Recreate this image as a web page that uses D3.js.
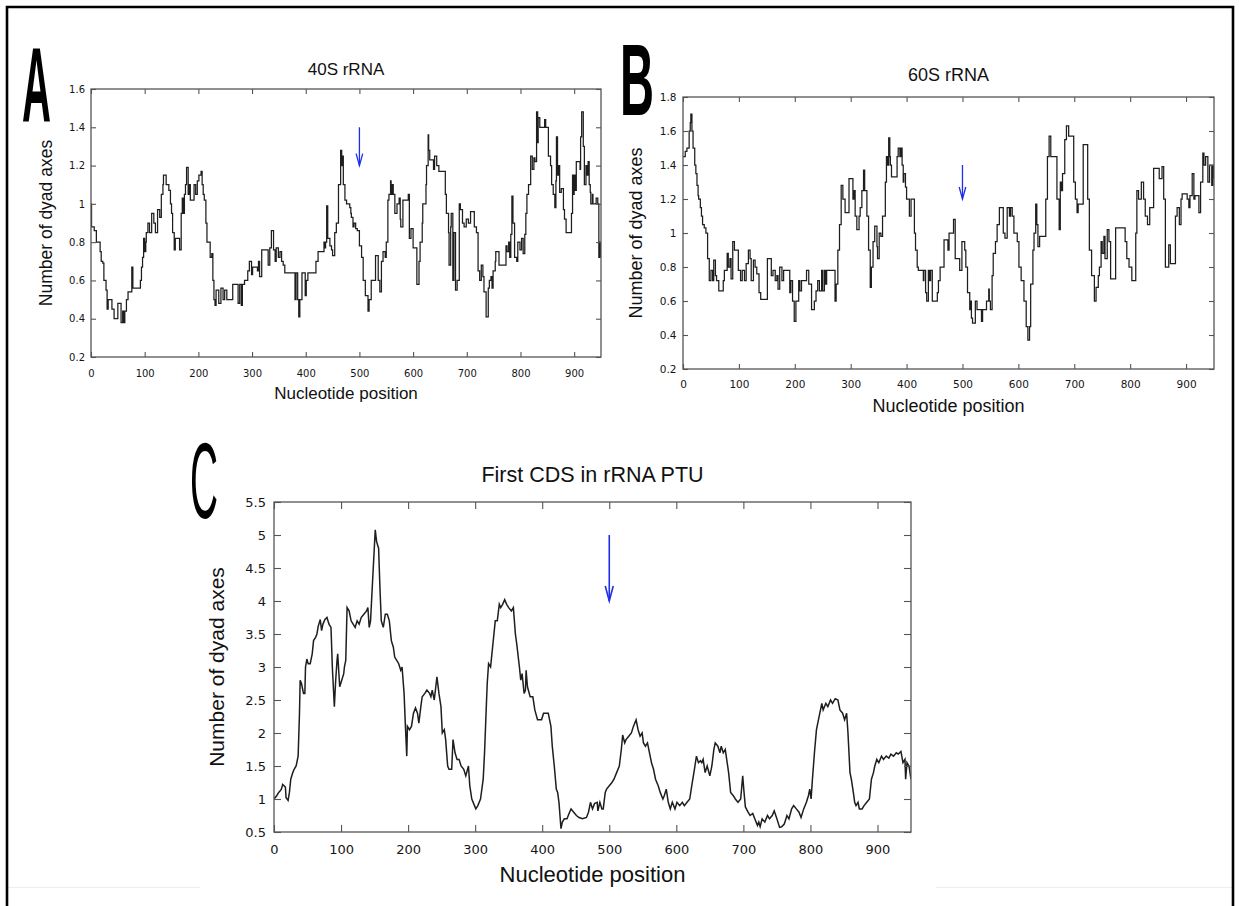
<!DOCTYPE html>
<html><head><meta charset="utf-8">
<script src="https://cdn.jsdelivr.net/npm/d3@7"></script>
<style>body{margin:0;background:#fff} svg{display:block}</style>
</head><body>
<svg id="chart" width="1239" height="906"></svg>
<script>
// ---------------- data ----------------
const titles = ["40S rRNA", "60S rRNA", "First CDS in rRNA PTU"];
const panelLetters = ["A", "B", "C"];
const xLabel = "Nucleotide position";
const yLabel = "Number of dyad axes";
const xTicks = [0,100,200,300,400,500,600,700,800,900];
const yTicksA = [0.2,0.4,0.6,0.8,1,1.2,1.4,1.6];
const yTicksB = [0.2,0.4,0.6,0.8,1,1.2,1.4,1.6,1.8];
const yTicksC = [0.5,1,1.5,2,2.5,3,3.5,4,4.5,5,5.5];
const arrowA = [500, 1.4, 1.2];
const arrowB = [500, 1.4, 1.2];
const arrowC = [500, 5.0, 4.0];

const dataA = [[0,1.0],[1,0.88],[6,0.86],[10,0.8],[13,0.8],[17,0.75],[19,0.7],[22,0.69],[24,0.6],[28,0.55],[30,0.45],[32,0.5],[35,0.5],[39,0.45],[43,0.4],[49,0.4],[50,0.48],[54,0.48],[56,0.38],[59,0.44],[61,0.38],[63,0.44],[66,0.5],[69,0.54],[74,0.54],[76,0.67],[78,0.56],[91,0.56],[92,0.6],[94,0.67],[96,0.72],[98,0.82],[100,0.75],[102,0.8],[103,0.85],[106,0.9],[109,0.85],[113,0.95],[117,0.9],[120,0.85],[124,0.97],[128,0.93],[131,1.05],[134,1.1],[135,1.15],[140,1.1],[145,1.07],[148,1.0],[150,0.95],[152,0.85],[155,0.76],[157,0.82],[165,0.76],[168,0.95],[170,1.03],[172,0.95],[174,1.05],[176,1.1],[178,1.19],[181,1.05],[183,1.1],[185,1.02],[192,1.1],[195,1.05],[198,1.12],[201,1.15],[205,1.17],[207,1.1],[209,1.05],[211,1.02],[214,0.9],[216,0.8],[222,0.72],[225,0.74],[227,0.6],[229,0.5],[231,0.47],[233,0.55],[238,0.48],[242,0.56],[246,0.5],[249,0.55],[253,0.5],[264,0.58],[272,0.58],[274,0.48],[277,0.58],[280,0.47],[282,0.58],[286,0.6],[292,0.65],[295,0.7],[299,0.63],[301,0.67],[310,0.65],[312,0.7],[314,0.62],[318,0.76],[327,0.76],[330,0.68],[333,0.77],[336,0.86],[340,0.76],[343,0.7],[345,0.77],[349,0.72],[352,0.75],[355,0.7],[358,0.68],[361,0.64],[378,0.64],[380,0.5],[382,0.64],[385,0.5],[387,0.41],[389,0.5],[393,0.64],[397,0.64],[399,0.52],[401,0.6],[404,0.64],[415,0.64],[419,0.7],[423,0.75],[430,0.75],[434,0.8],[435,0.77],[437,0.8],[439,0.99],[441,0.82],[445,0.78],[448,0.76],[450,0.73],[454,0.85],[457,0.9],[461,1.1],[465,1.28],[467,1.2],[468,1.25],[470,1.1],[473,1.02],[476,1.0],[482,0.98],[484,0.95],[485,0.93],[488,0.88],[490,0.9],[493,0.87],[496,0.86],[500,0.78],[504,0.72],[507,0.6],[511,0.52],[516,0.44],[518,0.5],[522,0.6],[526,0.6],[530,0.73],[533,0.73],[535,0.6],[538,0.54],[541,0.7],[544,0.75],[548,0.72],[550,0.8],[553,1.02],[555,1.05],[558,1.12],[559,1.05],[561,1.1],[563,1.05],[566,0.95],[570,1.0],[574,1.03],[576,0.92],[577,0.88],[581,1.02],[589,1.02],[591,1.05],[593,0.82],[596,0.87],[600,0.77],[607,0.58],[611,0.7],[613,0.8],[617,0.9],[618,1.0],[622,1.0],[624,1.1],[625,1.2],[628,1.36],[629,1.28],[631,1.23],[636,1.23],[638,1.18],[640,1.25],[644,1.2],[648,1.17],[659,1.17],[660,1.05],[662,0.95],[666,0.85],[667,0.68],[670,0.88],[671,0.95],[674,0.6],[676,0.85],[679,0.55],[682,0.6],[686,1.0],[688,0.97],[692,0.9],[695,0.88],[699,0.92],[703,0.9],[707,0.96],[712,0.96],[714,0.88],[718,0.85],[721,0.65],[724,0.6],[727,0.68],[730,0.62],[732,0.54],[736,0.41],[740,0.56],[742,0.6],[745,0.62],[747,0.56],[749,0.65],[753,0.7],[754,0.75],[760,0.68],[769,0.68],[773,0.78],[775,0.75],[778,0.8],[780,0.72],[782,0.84],[784,1.04],[786,0.9],[789,0.72],[793,0.7],[795,0.8],[799,0.76],[802,0.82],[805,0.74],[808,0.84],[810,0.95],[812,1.05],[815,1.1],[819,1.25],[822,1.18],[825,1.24],[827,1.22],[830,1.48],[832,1.32],[833,1.45],[836,1.4],[843,1.4],[845,1.44],[847,1.4],[850,1.4],[852,1.25],[856,1.2],[858,1.1],[861,1.05],[864,0.98],[866,1.12],[867,1.35],[869,1.15],[871,1.2],[873,1.06],[876,1.08],[880,0.97],[882,0.92],[885,0.85],[892,0.85],[895,0.95],[897,1.15],[898,1.05],[900,1.15],[902,1.07],[904,1.22],[909,1.22],[911,1.18],[912,1.35],[914,1.48],[917,1.3],[919,1.1],[922,1.2],[924,1.15],[926,1.22],[928,1.1],[930,1.06],[931,1.0],[934,1.05],[935,1.0],[941,1.03],[944,1.0],[946,0.72],[948,0.8],[950,0.72]];

const dataB = [[0,1.45],[4,1.48],[7,1.5],[11,1.6],[13,1.65],[14,1.7],[16,1.6],[18,1.5],[21,1.4],[23,1.35],[25,1.28],[27,1.22],[28,1.2],[31,1.15],[33,1.1],[35,1.05],[38,1.03],[41,1.0],[44,0.85],[47,0.72],[50,0.78],[53,0.72],[55,0.84],[58,0.75],[60,0.72],[64,0.66],[69,0.66],[72,0.72],[74,0.78],[79,0.88],[81,0.8],[84,0.85],[86,0.73],[89,0.95],[92,0.9],[96,0.9],[99,0.78],[103,0.72],[106,0.78],[110,0.72],[113,0.82],[117,0.9],[120,0.85],[122,0.72],[126,0.84],[129,0.8],[132,0.76],[136,0.65],[139,0.61],[149,0.61],[151,0.85],[156,0.85],[158,0.75],[161,0.78],[165,0.72],[168,0.75],[170,0.67],[173,0.8],[177,0.72],[180,0.78],[187,0.78],[191,0.65],[193,0.72],[196,0.6],[199,0.48],[202,0.6],[207,0.72],[209,0.66],[212,0.72],[218,0.72],[221,0.78],[225,0.7],[230,0.55],[235,0.6],[238,0.66],[241,0.72],[244,0.66],[248,0.78],[250,0.66],[253,0.78],[255,0.7],[257,0.78],[269,0.78],[272,0.6],[274,0.7],[277,0.9],[280,1.05],[283,1.28],[286,1.2],[290,1.12],[296,1.12],[297,1.32],[301,1.32],[304,1.2],[306,1.25],[308,1.1],[311,1.02],[315,1.1],[317,1.15],[320,1.25],[323,1.37],[325,1.25],[329,1.1],[332,0.9],[335,0.68],[337,0.8],[340,0.95],[343,1.04],[347,0.92],[348,0.85],[351,1.0],[354,0.98],[357,1.1],[361,1.1],[362,1.3],[364,1.45],[366,1.4],[368,1.56],[370,1.45],[371,1.4],[373,1.33],[381,1.33],[383,1.45],[385,1.5],[388,1.45],[390,1.5],[392,1.4],[394,1.3],[395,1.35],[398,1.27],[400,1.2],[405,1.1],[408,1.2],[412,1.2],[414,1.0],[416,0.9],[419,0.8],[421,0.78],[428,0.78],[430,0.72],[431,0.78],[434,0.65],[436,0.6],[439,0.78],[441,0.72],[443,0.78],[446,0.6],[453,0.6],[455,0.65],[457,0.72],[460,0.8],[465,0.8],[467,0.96],[472,0.96],[474,0.9],[476,1.0],[481,1.0],[484,1.08],[487,0.85],[492,0.85],[495,0.78],[499,0.95],[502,0.95],[504,0.9],[506,0.8],[509,0.65],[513,0.55],[514,0.6],[516,0.5],[518,0.47],[522,0.47],[523,0.6],[526,0.55],[532,0.55],[534,0.48],[536,0.55],[541,0.55],[543,0.6],[547,0.67],[548,0.6],[550,0.55],[553,0.75],[555,0.88],[559,0.95],[562,1.05],[566,1.15],[571,1.15],[573,1.0],[576,0.97],[580,1.15],[584,1.1],[586,1.15],[589,1.1],[592,1.0],[598,0.95],[601,0.8],[605,0.72],[610,0.6],[614,0.45],[617,0.37],[620,0.45],[622,0.7],[626,0.9],[628,1.0],[631,1.17],[633,1.05],[635,0.92],[638,0.98],[647,0.98],[649,1.2],[652,1.45],[655,1.57],[658,1.45],[667,1.45],[669,1.2],[673,1.02],[675,1.3],[677,1.25],[679,1.35],[683,1.55],[686,1.63],[690,1.57],[697,1.57],[699,1.3],[702,1.2],[705,1.12],[707,1.17],[713,1.17],[716,1.52],[721,1.52],[724,1.2],[727,0.9],[731,0.75],[736,0.6],[739,0.68],[743,0.75],[745,0.8],[748,0.95],[750,0.88],[753,0.98],[755,0.85],[759,1.02],[762,0.95],[765,0.73],[772,0.73],[774,1.03],[789,1.03],[791,0.95],[794,0.85],[798,0.8],[801,0.8],[803,0.72],[808,0.72],[810,1.0],[812,1.25],[815,1.2],[820,1.3],[824,1.2],[827,1.1],[831,1.05],[835,1.15],[842,1.38],[850,1.38],[852,1.32],[856,1.32],[857,1.39],[860,1.2],[863,0.8],[866,0.8],[869,0.93],[872,0.82],[876,0.82],[881,1.1],[884,1.15],[888,1.05],[891,1.2],[893,1.23],[900,1.23],[902,1.2],[905,1.15],[907,1.22],[911,1.35],[914,1.2],[916,1.22],[921,1.22],[923,1.12],[926,1.3],[930,1.47],[932,1.4],[935,1.45],[939,1.3],[942,1.4],[946,1.28],[948,1.4],[950,1.32]];

const dataC = [[0,1.0],[4,1.05],[7,1.1],[9,1.12],[11,1.15],[13,1.22],[15,1.2],[17,1.18],[18,1.02],[21,0.98],[23,1.1],[25,1.3],[28,1.4],[30,1.45],[33,1.5],[35,1.6],[36,1.65],[38,2.3],[39,2.8],[41,2.75],[44,2.6],[46,2.6],[47,3.0],[49,3.12],[51,3.05],[54,3.05],[57,3.2],[59,3.4],[62,3.45],[64,3.5],[66,3.62],[69,3.72],[71,3.55],[73,3.65],[76,3.72],[79,3.75],[82,3.65],[85,3.6],[87,3.0],[90,2.4],[92,2.8],[94,3.1],[95,3.2],[98,2.7],[101,2.8],[104,2.9],[105,3.0],[107,3.1],[109,3.9],[112,3.85],[115,3.7],[118,3.65],[121,3.6],[124,3.7],[127,3.65],[130,3.75],[134,3.8],[138,3.85],[140,3.9],[142,3.6],[144,3.7],[147,4.3],[151,5.08],[153,4.9],[156,4.8],[158,4.2],[160,3.7],[163,3.6],[166,3.8],[169,3.8],[172,3.7],[175,3.4],[178,3.3],[180,3.15],[183,3.1],[186,3.05],[189,2.95],[191,3.0],[194,2.6],[196,2.1],[198,1.65],[199,2.1],[202,2.05],[205,2.1],[208,2.3],[211,2.38],[214,2.3],[216,2.15],[219,2.4],[221,2.55],[225,2.6],[228,2.65],[232,2.6],[234,2.55],[236,2.65],[239,2.5],[243,2.85],[246,2.6],[249,2.4],[251,2.0],[254,2.05],[256,1.9],[259,1.5],[261,1.45],[265,1.45],[267,1.9],[270,1.7],[273,1.6],[276,1.6],[279,1.5],[283,1.45],[286,1.35],[290,1.5],[292,1.2],[295,1.0],[299,0.9],[301,0.85],[304,0.9],[308,1.0],[312,1.3],[314,1.7],[317,2.5],[318,2.75],[320,3.05],[323,3.0],[324,3.1],[328,3.5],[330,3.7],[333,3.7],[336,3.95],[338,3.9],[341,3.95],[344,4.02],[347,3.95],[350,3.9],[354,3.85],[357,3.9],[360,3.5],[362,3.35],[366,3.0],[368,2.8],[370,2.9],[373,2.6],[375,2.65],[376,2.95],[378,2.7],[382,2.55],[386,2.55],[389,2.35],[393,2.2],[399,2.2],[402,2.3],[409,2.3],[413,2.1],[415,1.8],[418,1.5],[421,1.15],[423,1.1],[425,0.95],[428,0.55],[430,0.65],[433,0.7],[437,0.7],[440,0.78],[443,0.85],[447,0.8],[451,0.75],[455,0.72],[460,0.7],[466,0.72],[469,0.8],[472,0.95],[475,0.85],[478,0.93],[482,0.95],[483,0.82],[486,0.95],[489,0.85],[491,0.85],[494,1.1],[496,1.15],[500,1.2],[504,1.25],[507,1.3],[511,1.4],[515,1.5],[518,1.75],[520,1.97],[523,1.85],[525,1.9],[529,1.95],[533,2.0],[536,2.1],[540,2.2],[543,2.05],[546,1.95],[549,2.0],[551,1.85],[554,1.8],[557,1.85],[560,1.7],[563,1.55],[566,1.45],[569,1.3],[573,1.2],[576,1.1],[580,1.0],[582,1.05],[585,1.15],[588,0.95],[591,0.85],[594,0.95],[598,0.85],[601,0.95],[605,0.9],[609,0.95],[612,0.9],[616,0.95],[620,1.0],[623,1.2],[627,1.45],[630,1.65],[633,1.55],[636,1.58],[638,1.55],[640,1.6],[643,1.4],[646,1.5],[650,1.35],[653,1.5],[656,1.75],[658,1.85],[662,1.8],[665,1.7],[667,1.8],[670,1.7],[673,1.75],[678,1.4],[681,1.1],[685,1.05],[688,1.0],[692,0.95],[696,1.0],[699,1.35],[701,1.1],[703,0.88],[707,0.8],[710,0.75],[714,0.78],[717,0.7],[721,0.6],[723,0.65],[725,0.58],[728,0.7],[732,0.65],[736,0.75],[739,0.7],[743,0.75],[746,0.82],[750,0.7],[754,0.57],[757,0.58],[761,0.62],[765,0.75],[768,0.7],[772,0.85],[775,0.9],[779,0.85],[783,0.8],[786,0.72],[790,0.85],[794,0.95],[797,1.05],[799,1.15],[801,1.0],[803,1.3],[806,1.7],[809,2.05],[814,2.3],[817,2.45],[819,2.35],[823,2.45],[826,2.4],[830,2.5],[833,2.45],[837,2.52],[841,2.5],[844,2.35],[848,2.3],[851,2.2],[854,2.3],[856,2.0],[859,1.4],[861,1.3],[864,1.1],[866,0.95],[868,0.9],[871,0.95],[873,0.85],[877,0.85],[880,0.9],[884,0.95],[888,1.0],[891,1.3],[894,1.4],[896,1.5],[899,1.6],[902,1.55],[906,1.65],[909,1.6],[913,1.65],[917,1.62],[920,1.68],[924,1.65],[928,1.7],[931,1.68],[935,1.72],[938,1.55],[941,1.6],[942,1.3],[944,1.55],[947,1.5],[950,1.3]];

// ---------------- layout ----------------
const panels = [
  {data:dataA, yTicks:yTicksA, yDom:[0.2,1.6], arrow:arrowA, title:titles[0], letter:panelLetters[0],
   L:91, R:601, T:89, B:357, titleSize:17, titleY:75, tickFont:"DejaVu Sans", tickFs:10, tickLen:5,
   yPad:6, xPad:13, ylabSize:17.5, ylabX:51.5, xlabSize:17, xlabY:399, step:true, lw:1.25,
   letterBox:[22,45,51,122], letterW:"bold", head:[3.3,12], alw:1.3},
  {data:dataB, yTicks:yTicksB, yDom:[0.2,1.8], arrow:arrowB, title:titles[1], letter:panelLetters[1],
   L:683, R:1214, T:97, B:369, titleSize:18, titleY:81, tickFont:"DejaVu Sans", tickFs:10.5, tickLen:5,
   yPad:6.5, xPad:11.5, ylabSize:18, ylabX:642, xlabSize:18, xlabY:411.5, step:true, lw:1.25,
   letterBox:[620,40,654,115], letterW:"bold", head:[3.3,12], alw:1.3},
  {data:dataC, yTicks:yTicksC, yDom:[0.5,5.5], arrow:arrowC, title:titles[2], letter:panelLetters[2],
   L:274, R:911, T:502, B:832, titleSize:21.5, titleY:482, tickFont:"DejaVu Sans", tickFs:13, tickLen:7,
   yPad:8, xPad:12.8, ylabSize:21, ylabX:224, xlabSize:22, xlabY:882, step:false, lw:1.5,
   letterBox:[190,440,218,518], letterW:"normal", head:[4,15], alw:1.6}
];

const svg = d3.select("#chart");
svg.append("rect").attr("width",1239).attr("height",906).attr("fill","#fff");

// faint bottom lines
svg.append("line").attr("x1",8).attr("x2",200).attr("y1",887.5).attr("y2",887.5).attr("stroke","#eeeeee").attr("stroke-width",1);
svg.append("line").attr("x1",936).attr("x2",1232).attr("y1",887.5).attr("y2",887.5).attr("stroke","#eeeeee").attr("stroke-width",1);

// outer border
svg.append("path").attr("d","M7,912 V7 H1233 V912").attr("fill","none").attr("stroke","#000").attr("stroke-width",2.6);

const frameColor = "#555";
const textFont = "'Liberation Sans', Arial, sans-serif";

panels.forEach((p, i) => {
  const x = d3.scaleLinear().domain([0,950]).range([p.L, p.R]);
  const y = d3.scaleLinear().domain(p.yDom).range([p.B, p.T]);
  const g = svg.append("g");

  // data line
  const clipId = "clip" + i;
  svg.append("clipPath").attr("id", clipId).append("rect")
    .attr("x", p.L).attr("y", p.T).attr("width", p.R - p.L).attr("height", p.B - p.T);
  const line = d3.line().x(d => x(d[0])).y(d => y(d[1]))
    .curve(p.step ? d3.curveStepAfter : d3.curveLinear);
  g.append("path").datum(p.data).attr("d", line).attr("fill","none")
    .attr("stroke","#1e1e1e").attr("stroke-width", p.lw).attr("stroke-linejoin","miter")
    .attr("clip-path", `url(#${clipId})`);

  // axes (inward ticks on all four sides)
  const fmt = d3.format("~g");
  const ax = [
    {a: d3.axisBottom(x).tickValues(xTicks).tickFormat(fmt).tickSizeInner(-p.tickLen).tickSizeOuter(0).tickPadding(p.xPad), tr:`translate(0,${p.B})`},
    {a: d3.axisTop(x).tickValues(xTicks).tickFormat("").tickSizeInner(-p.tickLen).tickSizeOuter(0), tr:`translate(0,${p.T})`},
    {a: d3.axisLeft(y).tickValues(p.yTicks).tickFormat(fmt).tickSizeInner(-p.tickLen).tickSizeOuter(0).tickPadding(p.yPad), tr:`translate(${p.L},0)`},
    {a: d3.axisRight(y).tickValues(p.yTicks).tickFormat("").tickSizeInner(-p.tickLen).tickSizeOuter(0), tr:`translate(${p.R},0)`}
  ];
  ax.forEach(o => {
    const ag = g.append("g").attr("transform", o.tr).call(o.a);
    ag.select(".domain").remove();
    ag.selectAll(".tick line").attr("stroke", frameColor).attr("stroke-width", 1.1);
    ag.selectAll(".tick text").attr("fill","#151515")
      .style("font-family", `'${p.tickFont}', sans-serif`).style("font-size", p.tickFs + "px");
  });

  // frame
  g.append("rect").attr("x", p.L).attr("y", p.T).attr("width", p.R - p.L).attr("height", p.B - p.T)
    .attr("fill","none").attr("stroke", frameColor).attr("stroke-width", 1.3);

  // title
  g.append("text").attr("x", (p.L + p.R) / 2).attr("y", p.titleY).attr("text-anchor","middle")
    .style("font-family", textFont).style("font-size", p.titleSize + "px").attr("fill","#111").text(p.title);

  // axis labels
  g.append("text").attr("x", (p.L + p.R) / 2).attr("y", p.xlabY).attr("text-anchor","middle")
    .style("font-family", textFont).style("font-size", p.xlabSize + "px").attr("fill","#111").text(xLabel);
  g.append("text").attr("transform", `translate(${p.ylabX},${(p.T + p.B) / 2}) rotate(-90)`)
    .attr("text-anchor","middle")
    .style("font-family", textFont).style("font-size", p.ylabSize + "px").attr("fill","#111").text(yLabel);

  // blue arrow
  const ax0 = x(p.arrow[0]), ay1 = y(p.arrow[1]), ay2 = y(p.arrow[2]);
  g.append("line").attr("x1", ax0).attr("x2", ax0).attr("y1", ay1).attr("y2", ay2)
    .attr("stroke","#1f2ee8").attr("stroke-width", p.alw);
  g.append("path").attr("d", `M${ax0 - p.head[0]},${ay2 - p.head[1]} L${ax0},${ay2} L${ax0 + p.head[0]},${ay2 - p.head[1]}`)
    .attr("fill","none").attr("stroke","#1f2ee8").attr("stroke-width", p.alw);

  // panel letter (tall condensed)
  const [lx0, ly0, lx1, ly1] = p.letterBox;
  const fs = (ly1 - ly0) / 0.73;
  const lt = svg.append("text").text(p.letter)
    .style("font-family", textFont).style("font-weight", p.letterW).style("font-size", fs + "px")
    .attr("fill","#000");
  const w = lt.node().getComputedTextLength();
  lt.attr("transform", `translate(${lx0},${ly1}) scale(${(lx1 - lx0) / w},1)`);
});
</script>
</body></html>
